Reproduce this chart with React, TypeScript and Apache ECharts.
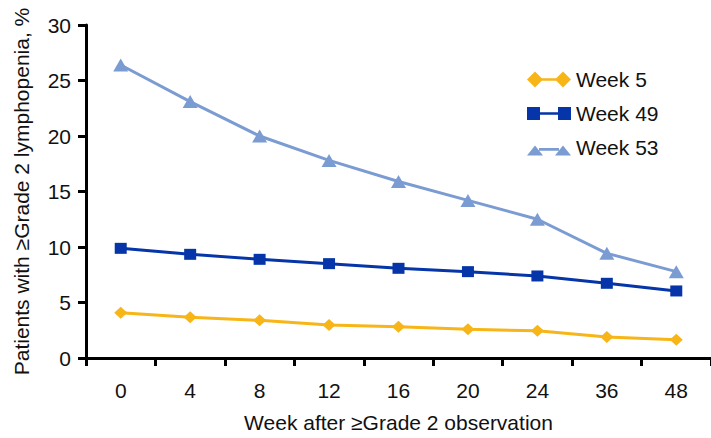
import React, { useEffect, useRef } from "react";
import * as echarts from "echarts";

const weeks = ["0", "4", "8", "12", "16", "20", "24", "36", "48"];
const week5 = [4.08, 3.67, 3.39, 2.97, 2.82, 2.58, 2.46, 1.89, 1.65];
const week49 = [9.88, 9.34, 8.89, 8.5, 8.08, 7.78, 7.39, 6.73, 6.04];
const week53 = [26.4, 23.1, 20.0, 17.8, 15.9, 14.2, 12.5, 9.43, 7.78];
const seriesNames = ["Week 5", "Week 49", "Week 53"];

const FONT = "'Liberation Sans', Arial, Helvetica, sans-serif";

const diamondIcon =
  "path://M0 8L8 0L16 8L8 16ZM28 8L36 0L44 8L36 16ZM14 6.7L30 6.7L30 9.3L14 9.3Z";
const squareIcon =
  "path://M0 1.5L13 1.5L13 14.5L0 14.5ZM31 1.5L44 1.5L44 14.5L31 14.5ZM12 6.7L32 6.7L32 9.3L12 9.3ZM0 0L0 0ZM0 16L0 16Z";
const triangleIcon =
  "path://M0 16L8 6L16 16ZM28 16L36 6L44 16ZM12 8.6L32 8.6L32 11.2L12 11.2ZM0 0L0 0Z";

export default function App() {
  const ref = useRef<HTMLDivElement>(null);

  useEffect(() => {
    if (!ref.current) return;
    const chart = echarts.init(ref.current, null, { renderer: "svg" });
    chart.setOption({
      animation: false,
      backgroundColor: "#ffffff",
      textStyle: { fontFamily: FONT },
      grid: { left: 86, top: 25, bottom: 80, right: -7, containLabel: false },
      legend: {
        orient: "vertical",
        left: 522,
        top: 64,
        itemWidth: 44,
        itemHeight: 16,
        itemGap: 13,
        symbolKeepAspect: true,
        textStyle: { fontSize: 21, color: "#111", fontFamily: FONT },
        data: [
          { name: seriesNames[0], icon: diamondIcon },
          { name: seriesNames[1], icon: squareIcon },
          { name: seriesNames[2], icon: triangleIcon },
        ],
      },
      xAxis: {
        type: "category",
        data: weeks,
        boundaryGap: true,
        name: "Week after \u2265Grade 2 observation",
        nameLocation: "middle",
        nameGap: 54,
        nameTextStyle: { fontSize: 21, color: "#111", fontFamily: FONT },
        axisLine: { show: true, lineStyle: { color: "#000", width: 3 } },
        axisTick: { show: true, alignWithLabel: false, length: 8, lineStyle: { color: "#000", width: 3 } },
        axisLabel: { fontSize: 21, color: "#111", margin: 22, fontFamily: FONT },
        splitLine: { show: false },
      },
      yAxis: {
        type: "value",
        min: 0,
        max: 30,
        interval: 5,
        name: "Patients with \u2265Grade 2 lymphopenia, %",
        nameLocation: "middle",
        nameGap: 54,
        nameTextStyle: { fontSize: 21, color: "#111", fontFamily: FONT },
        axisLine: { show: true, lineStyle: { color: "#000", width: 3 } },
        axisTick: { show: true, length: 8, lineStyle: { color: "#000", width: 3 } },
        axisLabel: { fontSize: 21, color: "#111", margin: 15, fontFamily: FONT },
        splitLine: { show: false },
      },
      series: [
        {
          name: seriesNames[0],
          type: "line",
          data: week5,
          symbol: "diamond",
          symbolSize: [13, 12],
          lineStyle: { color: "#F7B517", width: 3 },
          itemStyle: { color: "#F7B517" },
        },
        {
          name: seriesNames[1],
          type: "line",
          data: week49,
          symbol: "rect",
          symbolSize: [12, 11],
          lineStyle: { color: "#0535A8", width: 3 },
          itemStyle: { color: "#0535A8" },
        },
        {
          name: seriesNames[2],
          type: "line",
          data: week53,
          symbol: "triangle",
          symbolSize: [15, 13],
          lineStyle: { color: "#7B9CD2", width: 3 },
          itemStyle: { color: "#7B9CD2" },
        },
      ],
    });
    return () => chart.dispose();
  }, []);

  return (
    <div
      ref={ref}
      style={{ position: "fixed", left: 0, top: 0, width: 711, height: 438 }}
    />
  );
}
